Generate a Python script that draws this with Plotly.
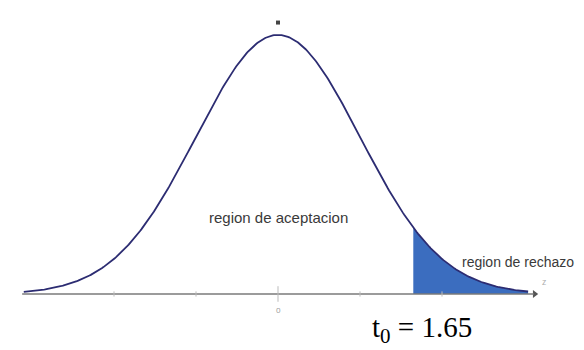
import numpy as np
import plotly.graph_objects as go

# parámetros de la distribución normal estándar
media = 0.0
desv = 1.0
t0 = 1.65                       # valor crítico
z_min, z_max = -3.1, 3.05       # extremos visibles de la curva
ticks_z = [-2, -1, 0, 1, 2]

texto_acept = "region de aceptacion"
texto_rech = "region de rechazo"
texto_t0 = "t<sub><span style='font-size:21px'>0</span></sub> = 1.65"

# curva de densidad
z = np.linspace(z_min, z_max, 400)
dens = np.exp(-0.5 * ((z - media) / desv) ** 2) / (desv * np.sqrt(2 * np.pi))

# región de rechazo (cola derecha)
zr = z[z >= t0]
zr = np.concatenate([[t0], zr])
dr = np.exp(-0.5 * ((zr - media) / desv) ** 2) / (desv * np.sqrt(2 * np.pi))

fig = go.Figure()
fig.add_trace(go.Scatter(x=np.concatenate([[t0], zr, [zr[-1]]]),
                         y=np.concatenate([[0], dr, [0]]),
                         fill='toself', fillcolor='#3b6dbf', mode='none', hoverinfo='skip'))
fig.add_trace(go.Scatter(x=z, y=dens, mode='lines', line=dict(color='#2c2c72', width=1.8), hoverinfo='skip'))

# eje horizontal con flecha
fig.add_shape(type='line', x0=-3.12, x1=3.12, y0=0, y1=0, line=dict(color='#7a7a7a', width=1.6))
fig.add_trace(go.Scatter(x=[3.13], y=[0], mode='markers', hoverinfo='skip',
                         marker=dict(symbol='triangle-right', size=7, color='#555')))
fig.add_annotation(x=3.19, y=0.006, text='z', showarrow=False, font=dict(size=9, color='#aaa'),
                   xanchor='left', yanchor='bottom')

# marcas del eje
for t in ticks_z:
    largo = 0.012 if t == 0 else 0.004
    fig.add_shape(type='line', x0=t, x1=t, y0=-largo, y1=largo, line=dict(color='#bbbbbb', width=1))
fig.add_annotation(x=0, y=-0.012, text='0', showarrow=False, font=dict(size=8, color='#999'), yanchor='top')
fig.add_trace(go.Scatter(x=[0], y=[0.418], mode='markers', marker=dict(color='#444', size=4, symbol='square'),
                         hoverinfo='skip'))

# textos
fig.add_annotation(x=0, y=0.1185, text=texto_acept, showarrow=False,
                   font=dict(family='Liberation Sans, Arial', size=15, color='#3a3a3a'))
fig.add_annotation(x=2.22, y=0.0491, text=texto_rech, showarrow=False, xanchor='left',
                   font=dict(family='Liberation Sans, Arial', size=14, color='#3a3a3a'))
fig.add_annotation(x=1.12, y=-0.055, text=texto_t0, showarrow=False, xanchor='left',
                   font=dict(family='Liberation Serif, Times New Roman', size=29, color='black'))

fig.update_xaxes(range=[-270 / 82, 314 / 82], visible=False)
fig.update_yaxes(range=[-0.0986, 0.4404], visible=False)
fig.update_layout(width=584, height=350, showlegend=False, margin=dict(l=0, r=0, t=0, b=0),
                  plot_bgcolor='white', paper_bgcolor='white')
fig.write_html("out.html")
